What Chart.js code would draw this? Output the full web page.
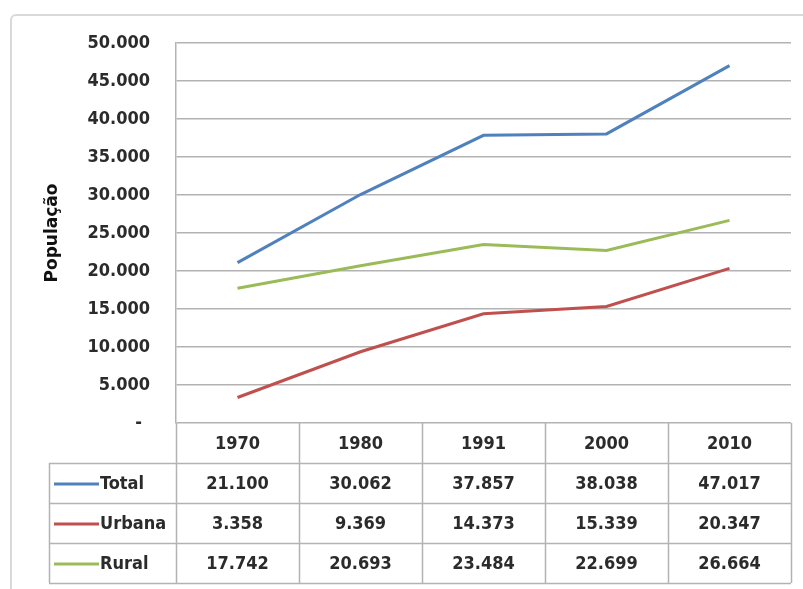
<!DOCTYPE html>
<html>
<head>
<meta charset="utf-8">
<script src="https://cdn.jsdelivr.net/npm/chart.js@4"></script>
<style>
  body { margin: 0; background: #fff; }
  #wrap { position: relative; width: 803px; height: 589px; overflow: hidden; }
  #frame { position: absolute; left: 10px; top: 14px; width: 820px; height: 620px;
           border: 2px solid #d9d9d9; border-radius: 6px; box-sizing: border-box; }
  canvas { position: absolute; left: 0; top: 0; }
</style>
</head>
<body>
<div id="wrap">
  <div id="frame"></div>
  <canvas id="popChart" width="803" height="589"></canvas>
</div>
<script>
// dados (população, milhares)
const anos = ['1970', '1980', '1991', '2000', '2010'];
const total = [21100, 30062, 37857, 38038, 47017];
const urbana = [3358, 9369, 14373, 15339, 20347];
const rural = [17742, 20693, 23484, 22699, 26664];
const nomes = ['Total', 'Urbana', 'Rural'];
const cores = ['#4f81bd', '#c0504d', '#9bbb59'];

const FONT = 'DejaVu Sans Condensed';
const gridColor = '#b3b3b3';

// formato 21.100
function fmt(v) {
  if (v === 0) return '-\u2002';
  return Math.round(v).toString().replace(/\B(?=(\d{3})+(?!\d))/g, '.');
}

// tabela de dados embaixo do gráfico (estilo Excel)
const tabelaPlugin = {
  id: 'tabela',
  afterDraw(chart) {
    const ctx = chart.ctx;
    const x = chart.scales.x, y = chart.scales.y;
    const series = chart.data.datasets;
    const top = y.bottom;
    const rowH = 40;
    const band = x.getPixelForValue(1) - x.getPixelForValue(0);
    const left = x.left, right = x.right;
    const legLeft = 49;
    const bottom = top + rowH * (series.length + 1);

    ctx.save();
    ctx.strokeStyle = gridColor;
    ctx.lineWidth = 1.5;
    ctx.beginPath();
    // verticais
    for (let i = 0; i <= anos.length; i++) {
      const px = Math.round(left + i * band) + 0.5;
      ctx.moveTo(px, top);
      ctx.lineTo(px, bottom);
    }
    ctx.moveTo(legLeft + 0.5, top + rowH);
    ctx.lineTo(legLeft + 0.5, bottom);
    // horizontais
    for (let r = 1; r <= series.length + 1; r++) {
      const py = Math.round(top + r * rowH) + 0.5;
      ctx.moveTo(legLeft, py);
      ctx.lineTo(right, py);
    }
    ctx.stroke();

    ctx.fillStyle = '#2b2b2b';
    ctx.font = 'bold 18px "' + FONT + '"';
    ctx.textAlign = 'center';
    ctx.textBaseline = 'middle';
    anos.forEach((a, i) => {
      ctx.fillText(a, x.getPixelForValue(i), top + rowH / 2 + 1);
    });

    series.forEach((ds, r) => {
      const cy = top + rowH * (r + 1) + rowH / 2 + 1;
      // legenda
      ctx.strokeStyle = ds.borderColor;
      ctx.lineWidth = 3;
      ctx.beginPath();
      ctx.moveTo(54, cy);
      ctx.lineTo(99, cy);
      ctx.stroke();
      ctx.textAlign = 'left';
      ctx.fillText(ds.label, 100, cy);
      ctx.textAlign = 'center';
      ds.data.forEach((v, i) => {
        ctx.fillText(fmt(v), x.getPixelForValue(i), cy);
      });
    });
    ctx.restore();
  }
};

const ctx = document.getElementById('popChart').getContext('2d');
const chart = new Chart(ctx, {
  type: 'line',
  data: {
    labels: anos,
    datasets: [
      { label: nomes[0], data: total, borderColor: cores[0] },
      { label: nomes[1], data: urbana, borderColor: cores[1] },
      { label: nomes[2], data: rural, borderColor: cores[2] }
    ]
  },
  options: {
    responsive: false,
    animation: false,
    devicePixelRatio: 1,
    elements: {
      line: { borderWidth: 3, tension: 0 },
      point: { radius: 0 }
    },
    layout: { padding: { left: 0, top: 43, right: 12, bottom: 166 } },
    plugins: {
      legend: { display: false },
      tooltip: { enabled: false }
    },
    scales: {
      x: {
        display: false,
        offset: true
      },
      y: {
        min: 0,
        max: 50000,
        afterFit: (scale) => { scale.width = 176; },
        ticks: {
          stepSize: 5000,
          padding: 26,
          color: '#2b2b2b',
          font: { family: FONT, size: 18, weight: 'bold' },
          callback: (v) => fmt(v)
        },
        grid: { color: gridColor, lineWidth: 1.5, drawTicks: false },
        border: { color: gridColor, width: 1.5 },
        title: {
          display: true,
          text: 'População',
          color: '#111',
          font: { family: 'DejaVu Sans', size: 17, weight: 'bold' },
          padding: { top: 42, bottom: 0 }
        }
      }
    }
  },
  plugins: [tabelaPlugin]
});
</script>
</body>
</html>
